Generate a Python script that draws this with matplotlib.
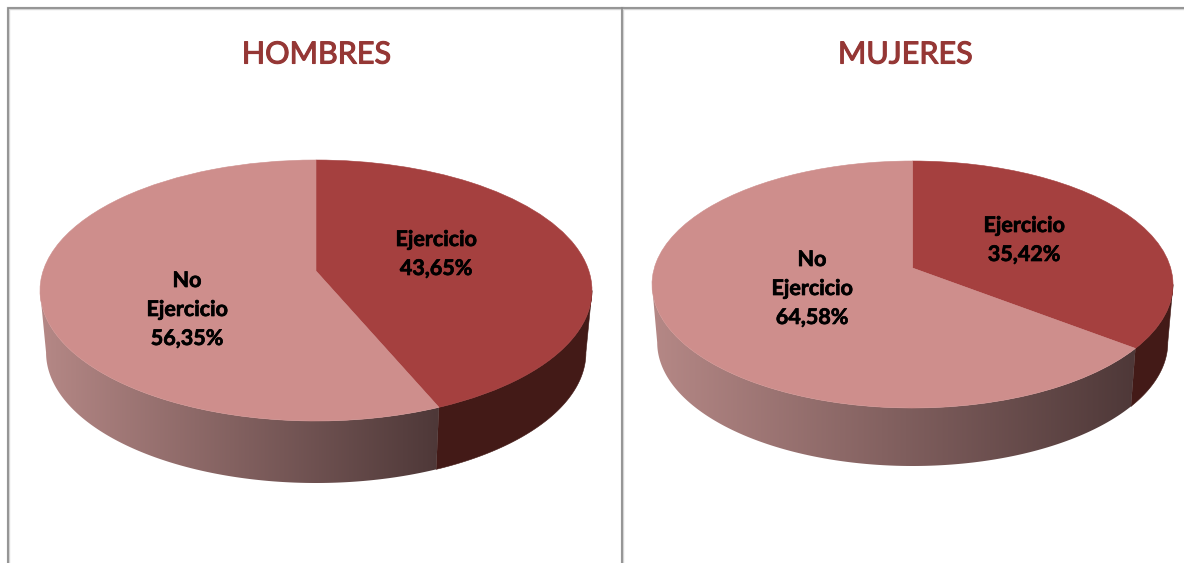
import numpy as np
import matplotlib
matplotlib.use("Agg")
import matplotlib.pyplot as plt
import matplotlib.patheffects as pe
from matplotlib.transforms import Transform
from matplotlib.colors import LinearSegmentedColormap

# ---- data ----
titles = ["HOMBRES", "MUJERES"]
categories = ["Ejercicio", "No\nEjercicio"]
hombres_values = [43.65, 56.35]
mujeres_values = [35.42, 64.58]

# ---- styles ----
COL_EJ_TOP = "#A5403F"
COL_NO_TOP = "#CE8E8C"
COL_EJ_SIDE = "#431A17"
COL_NO_SIDE_L = "#B58886"
COL_NO_SIDE_R = "#4E3838"
TITLE_COL = "#953735"
plt.rcParams["font.family"] = ["Lato", "DejaVu Sans"]


class Persp(Transform):
    """Projects the unit disc of a pie on to the tilted ellipse of a 3-D pie."""
    input_dims = output_dims = 2
    is_separable = False
    has_inverse = False

    def __init__(self, cx, cy, rx, far, near, xs=1.0, dy=0.0):
        super().__init__()
        self.k = (near - far) / (near + far)
        self.b = far * (1 + self.k)
        self.a = rx * np.sqrt(1 - self.k ** 2)
        self.cx, self.cy, self.xs, self.dy = cx, cy, xs, dy

    def transform_non_affine(self, xy):
        xy = np.asarray(xy, float)
        w = 1 + self.k * xy[:, 1]
        return np.column_stack([
            self.cx + self.xs * self.a * xy[:, 0] / w,
            self.cy + self.dy - self.b * xy[:, 1] / w,
        ])


def arc(a1, a2):
    t = np.radians(np.linspace(a1, a2, 200))
    return np.column_stack([np.cos(t), np.sin(t)])


def draw_pie(ax, values, geom, depth, xs, label_xy):
    top = Persp(*geom)
    bot = Persp(*geom, xs=xs, dy=depth)
    # angles of the boundary between slices, ccw from +x, pie starts at 90 clockwise
    boundary = 90 - 360 * values[0] / sum(values)
    right_ext = -np.degrees(np.arcsin(top.k))
    left_ext = 180 - right_ext

    def wall(a1, a2):
        pts = arc(a1, a2)
        return np.vstack([top.transform(pts), bot.transform(pts)[::-1]])

    # dark wall of the first slice
    ax.fill(*wall(boundary, right_ext).T, color=COL_EJ_SIDE, lw=0.4, zorder=1)
    # gradient wall of the second slice
    w2 = wall(left_ext, boundary + 360)
    patch = ax.fill(*w2.T, color="none", lw=0, zorder=0)[0]
    cmap = LinearSegmentedColormap.from_list("side", [COL_NO_SIDE_L, COL_NO_SIDE_R])
    im = ax.imshow(np.linspace(0, 1, 256)[None, :], cmap=cmap, aspect="auto",
                   extent=(w2[:, 0].min(), w2[:, 0].max(), w2[:, 1].max(), w2[:, 1].min()),
                   interpolation="bilinear", zorder=2)
    im.set_clip_path(patch)
    # top face
    wedges, _ = ax.pie(values, colors=[COL_EJ_TOP, COL_NO_TOP], startangle=90, counterclock=False,
                       wedgeprops=dict(transform=top + ax.transData, zorder=3, lw=0.4))
    for w in wedges:
        w.set_edgecolor(w.get_facecolor())
    # labels
    for cat, v, (x, y) in zip(categories, values, label_xy):
        txt = f"{cat}\n{v:.2f}%".replace(".", ",")
        ax.text(x, y, txt, ha="center", va="center", fontsize=15.5, fontweight="bold",
                color="black", linespacing=1.47, zorder=5,
                path_effects=[pe.withStroke(linewidth=0.5, foreground="black")])


fig = plt.figure(figsize=(11.84, 5.63), dpi=100, facecolor="white")
ax = fig.add_axes([0, 0, 1, 1])

draw_pie(ax, hombres_values, (316, 271, 276, 111, 150), 62, 0.978,
         [(436, 254), (187, 309.5)])
draw_pie(ax, mujeres_values, (912.5, 268, 260.5, 107, 140), 58, 0.98,
         [(1024, 240), (812, 288.5)])

# titles
for t, x in zip(titles, [316, 905]):
    ax.text(x, 54.5, t, ha="center", va="center", fontsize=22, color=TITLE_COL, zorder=5,
            path_effects=[pe.withStroke(linewidth=0.8, foreground=TITLE_COL)])

# panel frame
for c, lw in (("#d4d4d4", 2.4), ("#8a8a8a", 1.2)):
    ax.plot([7.5, 7.5, 1184], [563, 8, 8], color=c, lw=lw, solid_joinstyle="miter", zorder=1)
    ax.plot([621.5, 621.5], [8, 563], color=c, lw=lw, zorder=1)

ax.set_aspect("auto")
ax.set_xlim(0, 1184)
ax.set_ylim(563, 0)
ax.set_axis_off()
fig.savefig("out.png", dpi=100)
